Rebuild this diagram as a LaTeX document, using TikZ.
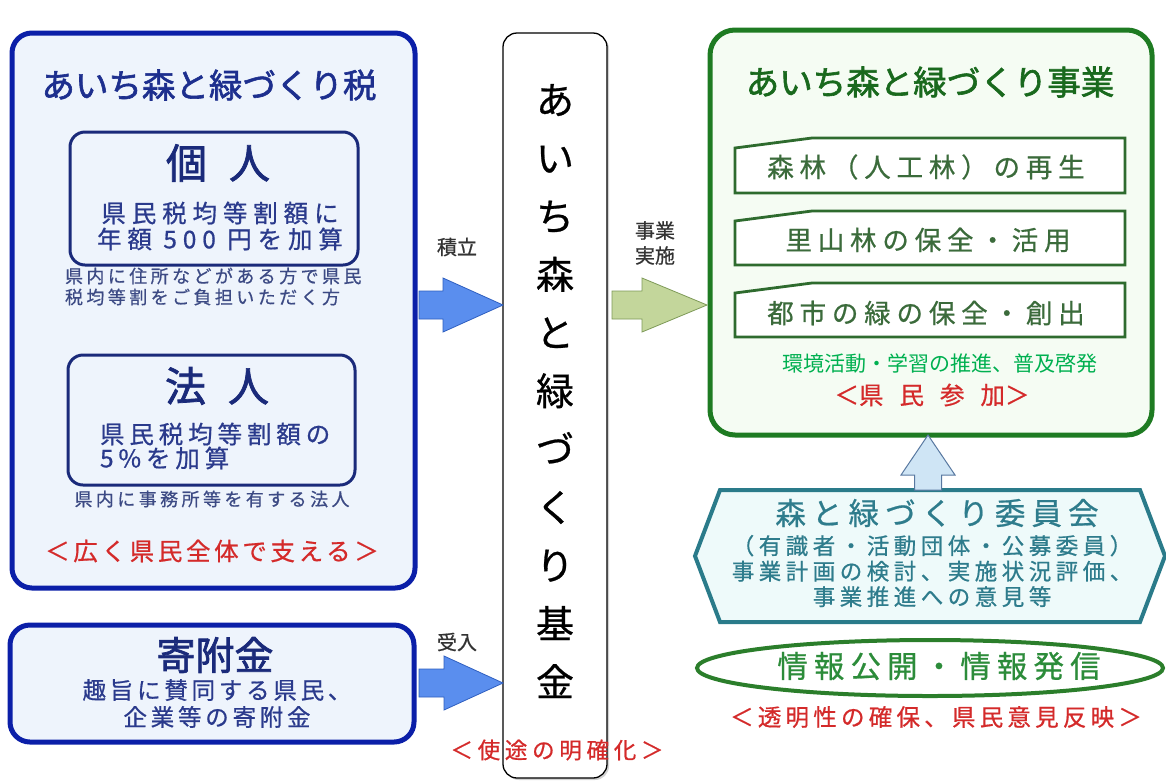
\documentclass[tikz,border=0pt]{standalone}
\usepackage{fontspec}
\setmainfont{Noto Sans CJK JP}
\newfontfamily\jpb[FakeBold=1.8]{Noto Sans CJK JP}
\newfontfamily\jpm[FakeBold=0.7]{Noto Sans CJK JP}
\usetikzlibrary{calc,shapes.geometric,shadows}
\definecolor{navyA}{HTML}{0B1FA8}
\definecolor{navyB}{HTML}{1A2A7A}
\definecolor{lightblue}{HTML}{EEF4FC}
\definecolor{titleblue}{HTML}{1D2F8E}
\definecolor{bodyblue}{HTML}{2A3A8C}
\definecolor{noteblue}{HTML}{3C4A84}
\definecolor{redtxt}{HTML}{D42A2A}
\definecolor{arrowblue}{HTML}{5A8EEE}
\definecolor{arrowblueline}{HTML}{2F5FC0}
\definecolor{arrowgreen}{HTML}{C3D69B}
\definecolor{arrowgreenline}{HTML}{7E9A58}
\definecolor{boxgreen}{HTML}{1E7B22}
\definecolor{lightgreen}{HTML}{F5FCF3}
\definecolor{itemgreen}{HTML}{2E6B2E}
\definecolor{itemtxt}{HTML}{3B6B3B}
\definecolor{brightgreen}{HTML}{00B050}
\definecolor{teal}{HTML}{2A7B8A}
\definecolor{tealfill}{HTML}{EEFAFA}
\definecolor{tealtxt}{HTML}{2E7C8C}
\definecolor{upfill}{HTML}{CFE5F5}
\definecolor{upline}{HTML}{5878A0}
\definecolor{infogreen}{HTML}{2B7E2B}
\definecolor{infotxt}{HTML}{2C8C3A}
\newcommand\fsz[2]{\fontsize{#1}{#2}\selectfont}
\newcommand\lsp[1]{\addfontfeature{LetterSpace=#1}}
% horizontal block arrow: style, start, end, head length
\newcommand\harrow[4]{%
  \draw[#1] let \p1=(#2), \p2=(#3) in
    (\x1,\y1+14pt) -- (\x2-#4,\y1+14pt) -- (\x2-#4,\y1+27pt) -- (\x2,\y1)
    -- (\x2-#4,\y1-27pt) -- (\x2-#4,\y1-14pt) -- (\x1,\y1-14pt) -- cycle;}
\tikzset{
  every node/.style={inner sep=0pt, outer sep=0pt},
  taxbox/.style={draw=navyA, fill=lightblue, line width=5pt, rounded corners=20pt},
  subbox/.style={draw=navyB, fill=lightblue, line width=3pt, rounded corners=15pt},
  fundbox/.style={draw=black, fill=white, line width=1.3pt, rounded corners=14pt,
     drop shadow={opacity=0.35, shadow xshift=2pt, shadow yshift=-2pt}},
  prjbox/.style={draw=boxgreen, fill=lightgreen, line width=5pt, rounded corners=25pt},
  itembox/.style={draw=itemgreen, fill=white, line width=2.8pt},
  hexbox/.style={draw=teal, fill=tealfill, line width=4pt, line join=miter},
  infobox/.style={draw=infogreen, fill=white, line width=4pt},
  bluearrow/.style={fill=arrowblue, draw=arrowblueline, line width=0.8pt},
  greenarrow/.style={fill=arrowgreen, draw=arrowgreenline, line width=0.8pt},
  uparrow/.style={fill=upfill, draw=upline, line width=1pt},
  reds/.style={text=redtxt},
  lbl/.style={text=black!80, font=\jpm\fsz{20}{22}},
}
\begin{document}
\begin{tikzpicture}[x=1pt,y=-1pt]
\useasboundingbox (0,0) rectangle (1166,780);
\fill[white] (0,0) rectangle (1166,780);

% ---------- left: tax ----------
\node[taxbox, minimum width=403pt, minimum height=555pt] (tax) at (213.5,310.5) {};
\node[text=titleblue, font=\jpb\fsz{33.5}{36}] (taxT) at (209,85) {あいち森と緑づくり税};

\node[subbox, minimum width=288pt, minimum height=133pt] (ind) at (214,198.5) {};
\node[text=navyB, font=\jpb\fsz{41}{44}] (indT) at (218,163) {個\hspace{22pt}人};
\node[text=bodyblue, font=\jpm\fsz{24.5}{26}\lsp{24}, align=center] (indB) at (220,226)
  {県民税均等割額に\\年額 500 円を加算};
\node[text=noteblue, font=\jpm\fsz{18}{21}\lsp{19}, align=left, anchor=west] (indN) at (65,286.5)
  {県内に住所などがある方で県民\\税均等割をご負担いただく方};

\node[subbox, minimum width=287pt, minimum height=130pt] (corp) at (211.5,420) {};
\node[text=navyB, font=\jpb\fsz{41}{44}] (corpT) at (217,386) {法\hspace{22pt}人};
\node[text=bodyblue, font=\jpm\fsz{24.5}{24}\lsp{20}, align=left, anchor=west] (corpB) at (100,446)
  {県民税均等割額の\\5\%を加算};
\node[text=noteblue, font=\jpm\fsz{18}{21}\lsp{19}] (corpN) at (212,499) {県内に事務所等を有する法人};

\node[reds, font=\jpm\fsz{24.5}{26}\lsp{15}] (taxR) at (212,551) {＜広く県民全体で支える＞};

% ---------- left: donation ----------
\node[taxbox, minimum width=404pt, minimum height=117pt] (don) at (212,683.5) {};
\node[text=navyB, font=\jpb\fsz{39}{40}] (donT) at (215,655) {寄附金};
\node[text=bodyblue, font=\jpm\fsz{23.5}{27}\lsp{16}, align=center] (donB) at (217,703.5)
  {趣旨に賛同する県民、\\企業等の寄附金};

% ---------- middle: fund ----------
\node[fundbox, minimum width=104pt, minimum height=745pt] (fund) at (555,405.5) {};
\node[text=black, font=\jpm\fsz{38}{58.2}, align=center] (fundT) at (555,391)
  {あ\\い\\ち\\森\\と\\緑\\づ\\く\\り\\基\\金};
\node[reds, font=\jpm\fsz{22.5}{24}\lsp{21}] (fundR) at (557,750) {＜使途の明確化＞};

% ---------- right: project ----------
\node[prjbox, minimum width=442pt, minimum height=405pt] (prj) at (931,232.5) {};
\node[text=boxgreen!85!black, font=\jpb\fsz{33.5}{36}] (prjT) at (930,82) {あいち森と緑づくり事業};

\node[minimum width=390pt, minimum height=55pt] (it1) at (930,165.5) {};
\node[minimum width=390pt, minimum height=54pt] (it2) at (930,238) {};
\node[minimum width=390pt, minimum height=54pt] (it3) at (930,310) {};
\foreach \n in {it1,it2,it3}{
  \draw[itembox] (\n.south west) -- ($(\n.north west)+(0,10)$) -- ($(\n.north west)+(77,0)$)
     -- (\n.north east) -- (\n.south east) -- cycle;
}
\node[text=itemtxt, font=\jpm\fsz{26.5}{28}\lsp{22}] (it1T) at (926,167) {森林（人工林）の再生};
\node[text=itemtxt, font=\jpm\fsz{26.5}{28}\lsp{22}] (it2T) at (928,240) {里山林の保全・活用};
\node[text=itemtxt, font=\jpm\fsz{26.5}{28}\lsp{22}] (it3T) at (926,313) {都市の緑の保全・創出};
\node[text=brightgreen, font=\fsz{21}{23}] (prjG) at (940,364) {環境活動・学習の推進、普及啓発};
\node[reds, font=\jpm\fsz{24.5}{26}] (prjR) at (932,395) {＜県\hspace{16pt}民\hspace{16pt}参\hspace{16pt}加＞};

% ---------- committee ----------
\node[minimum width=420pt, minimum height=132pt] (hex) at (930,556) {};
\draw[hexbox] (hex.north west) -- (hex.north east) -- ($(hex.east)+(25,0)$) -- (hex.south east)
   -- (hex.south west) -- ($(hex.west)+(-25,0)$) -- cycle;
\node[text=tealtxt, font=\jpm\fsz{30.5}{32}\lsp{20}] (hexT) at (937,513) {森と緑づくり委員会};
\node[text=tealtxt, font=\jpm\fsz{22.5}{25.5}\lsp{20}, align=center] (hexB) at (932,571)
  {（有識者・活動団体・公募委員）\\事業計画の検討、実施状況評価、\\事業推進への意見等};

% ---------- info ----------
\node[infobox, ellipse, minimum width=466pt, minimum height=56pt] (info) at (930,668) {};
\node[text=infotxt, font=\jpm\fsz{30.5}{32}\lsp{20}] (infoT) at (939,666) {情報公開・情報発信};
\node[reds, font=\jpm\fsz{23.5}{25}\lsp{18}] (infoR) at (936,717) {＜透明性の確保、県民意見反映＞};

% ---------- arrows ----------
\coordinate (a1s) at ($(tax.east |- 0,305)+(4,0)$);
\coordinate (a1e) at (fund.west |- a1s);
\harrow{bluearrow}{a1s}{a1e}{60pt}
\node[lbl] (a1L) at (457,247) {積立};

\coordinate (a2s) at ($(don.east |- 0,683)+(5,0)$);
\coordinate (a2e) at (fund.west |- a2s);
\harrow{bluearrow}{a2s}{a2e}{59pt}
\node[lbl] (a2L) at (457,642) {受入};

\coordinate (a3s) at ($(fund.east |- 0,305)+(5,0)$);
\coordinate (a3e) at ($(prj.west |- a3s)+(-3,0)$);
\harrow{greenarrow}{a3s}{a3e}{65pt}
\node[lbl, align=center, font=\jpm\fsz{20}{25}] (a3L) at (655,243) {事業\\実施};

\draw[uparrow] let \p1=($(hex.north)+(-2,0)$), \p2=(prj.south) in
  (\x1-13.5pt,\y1) -- (\x1-13.5pt,\y2-40pt) -- (\x1-27pt,\y2-40pt) -- (\x1,\y2)
  -- (\x1+27pt,\y2-40pt) -- (\x1+13.5pt,\y2-40pt) -- (\x1+13.5pt,\y1) -- cycle;
\end{tikzpicture}
\end{document}
